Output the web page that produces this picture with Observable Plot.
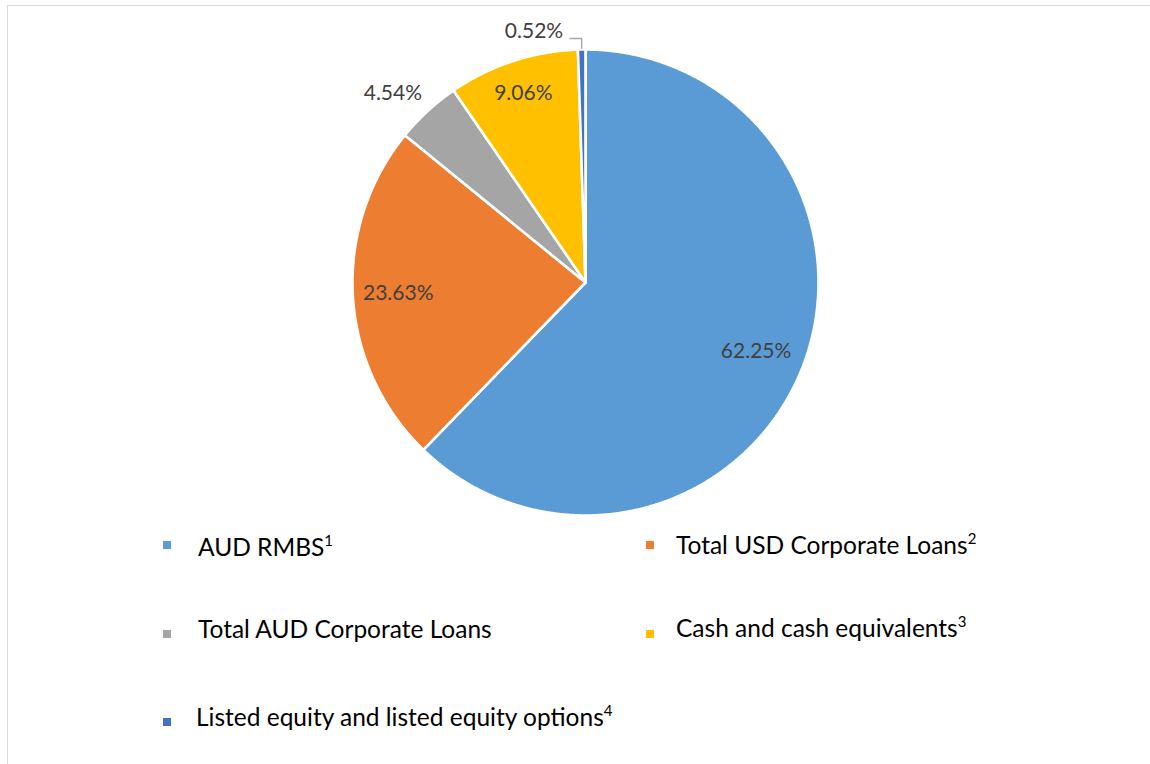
<!DOCTYPE html>
<html>
<head>
<meta charset="utf-8">
<script src="https://cdn.jsdelivr.net/npm/d3@7"></script>
<script src="https://cdn.jsdelivr.net/npm/@observablehq/plot@0.6"></script>
<style>
  html, body { margin: 0; padding: 0; background: #fff; }
  #wrap { position: relative; width: 1150px; height: 764px; overflow: hidden; font-family: Lato, "Open Sans", sans-serif; }
  #frame { position: absolute; left: 7px; top: 5px; width: 1200px; height: 800px; border-left: 1px solid #d9d9d9; border-top: 1px solid #d9d9d9; }
  #chart { position: absolute; left: 0; top: 0; }
  .sw { position: absolute; width: 8px; height: 8px; }
  .lt { position: absolute; font-size: 24.5px; line-height: 24.5px; color: #000; white-space: nowrap; }
  .lt sup { font-size: 15px; vertical-align: 10px; line-height: 0; }
</style>
</head>
<body>
<div id="wrap">
  <div id="frame"></div>
  <div id="chart"></div>
  <div id="legend"></div>
</div>
<script>
// ---- data ----
const categories = ["AUD RMBS", "Total USD Corporate Loans", "Total AUD Corporate Loans", "Cash and cash equivalents", "Listed equity and listed equity options"];
const footnotes = ["1", "2", "", "3", "4"];
const shares = [62.25, 23.63, 4.54, 9.06, 0.52];
const colors = ["#5B9BD5", "#ED7D31", "#A5A5A5", "#FFC000", "#4472C4"];

// ---- label layout (radius in pie radii, angle tweak in degrees) ----
const labelRadius = [0.79, 0.805, 1.16, 0.855, 1.077];
const labelAngleShift = [0, 0, -2.8, 0, 0];

const total = d3.sum(shares);
let cum = 0;
const slices = shares.map((v, i) => {
  const a0 = cum / total * 2 * Math.PI;
  cum += v;
  const a1 = cum / total * 2 * Math.PI;
  return { i, name: categories[i], value: v, a0, a1, mid: (a0 + a1) / 2, color: colors[i] };
});

function arcPoints(s) {
  const pts = [{ x: 0, y: 0 }];
  const n = Math.max(2, Math.ceil((s.a1 - s.a0) / (Math.PI / 720)));
  for (let k = 0; k <= n; k++) {
    const a = s.a0 + (s.a1 - s.a0) * k / n;
    pts.push({ x: Math.sin(a), y: Math.cos(a) });
  }
  pts.push({ x: 0, y: 0 });
  return pts;
}

const labelData = slices.slice(0, 4).map(s => {
  const a = s.mid + labelAngleShift[s.i] * Math.PI / 180;
  const r = labelRadius[s.i];
  return { x: r * Math.sin(a), y: r * Math.cos(a), text: s.value.toFixed(2) + "%" };
});

// small slice: leader line + label
const small = slices[4];
const lx = Math.sin(small.mid) * 1.005;
const leader = [
  { x: lx, y: Math.cos(small.mid) * 1.005 },
  { x: lx, y: 1.047 },
  { x: -0.066, y: 1.047 }
];
const smallLabel = [{ x: -0.0957, y: 1.077, text: small.value.toFixed(2) + "%" }];

const marks = slices.map(s => Plot.line(arcPoints(s), {
  x: "x", y: "y", fill: s.color, stroke: "white", strokeWidth: 2.6, strokeLinejoin: "round", curve: "linear"
}));
marks.push(Plot.line(leader, { x: "x", y: "y", stroke: "#a6a6a6", strokeWidth: 1.4 }));
marks.push(Plot.text(labelData, { x: "x", y: "y", text: "text", fill: "#404040", fontSize: 21 }));
marks.push(Plot.text(smallLabel, { x: "x", y: "y", text: "text", fill: "#404040", fontSize: 21, textAnchor: "end" }));

const chart = Plot.plot({
  width: 1150,
  height: 525,
  marginLeft: 352,
  marginRight: 332,
  marginTop: 49,
  marginBottom: 10,
  x: { domain: [-1, 1], axis: null },
  y: { domain: [-1, 1], axis: null },
  style: { fontFamily: "Lato, 'Open Sans', sans-serif", background: "transparent", overflow: "visible" },
  marks
});
document.getElementById("chart").appendChild(chart);

// ---- legend (HTML, below the pie) ----
const legendPos = [
  { sx: 163, sy: 541, tx: 198, base: 557 },
  { sx: 646, sy: 541, tx: 676, base: 555 },
  { sx: 163, sy: 630, tx: 198, base: 639 },
  { sx: 646, sy: 630, tx: 676, base: 638 },
  { sx: 163, sy: 718, tx: 196, base: 727 }
];
const fs = 24.5;
const legend = document.getElementById("legend");
categories.forEach((c, i) => {
  const p = legendPos[i];
  const sw = document.createElement("div");
  sw.className = "sw";
  sw.style.left = p.sx + "px";
  sw.style.top = p.sy + "px";
  sw.style.background = colors[i];
  legend.appendChild(sw);
  const t = document.createElement("div");
  t.className = "lt";
  t.style.left = p.tx + "px";
  t.style.top = (p.base - 0.887 * fs) + "px";
  t.textContent = c;
  if (footnotes[i]) {
    const s = document.createElement("sup");
    s.textContent = footnotes[i];
    t.appendChild(s);
  }
  legend.appendChild(t);
});
</script>
</body>
</html>
